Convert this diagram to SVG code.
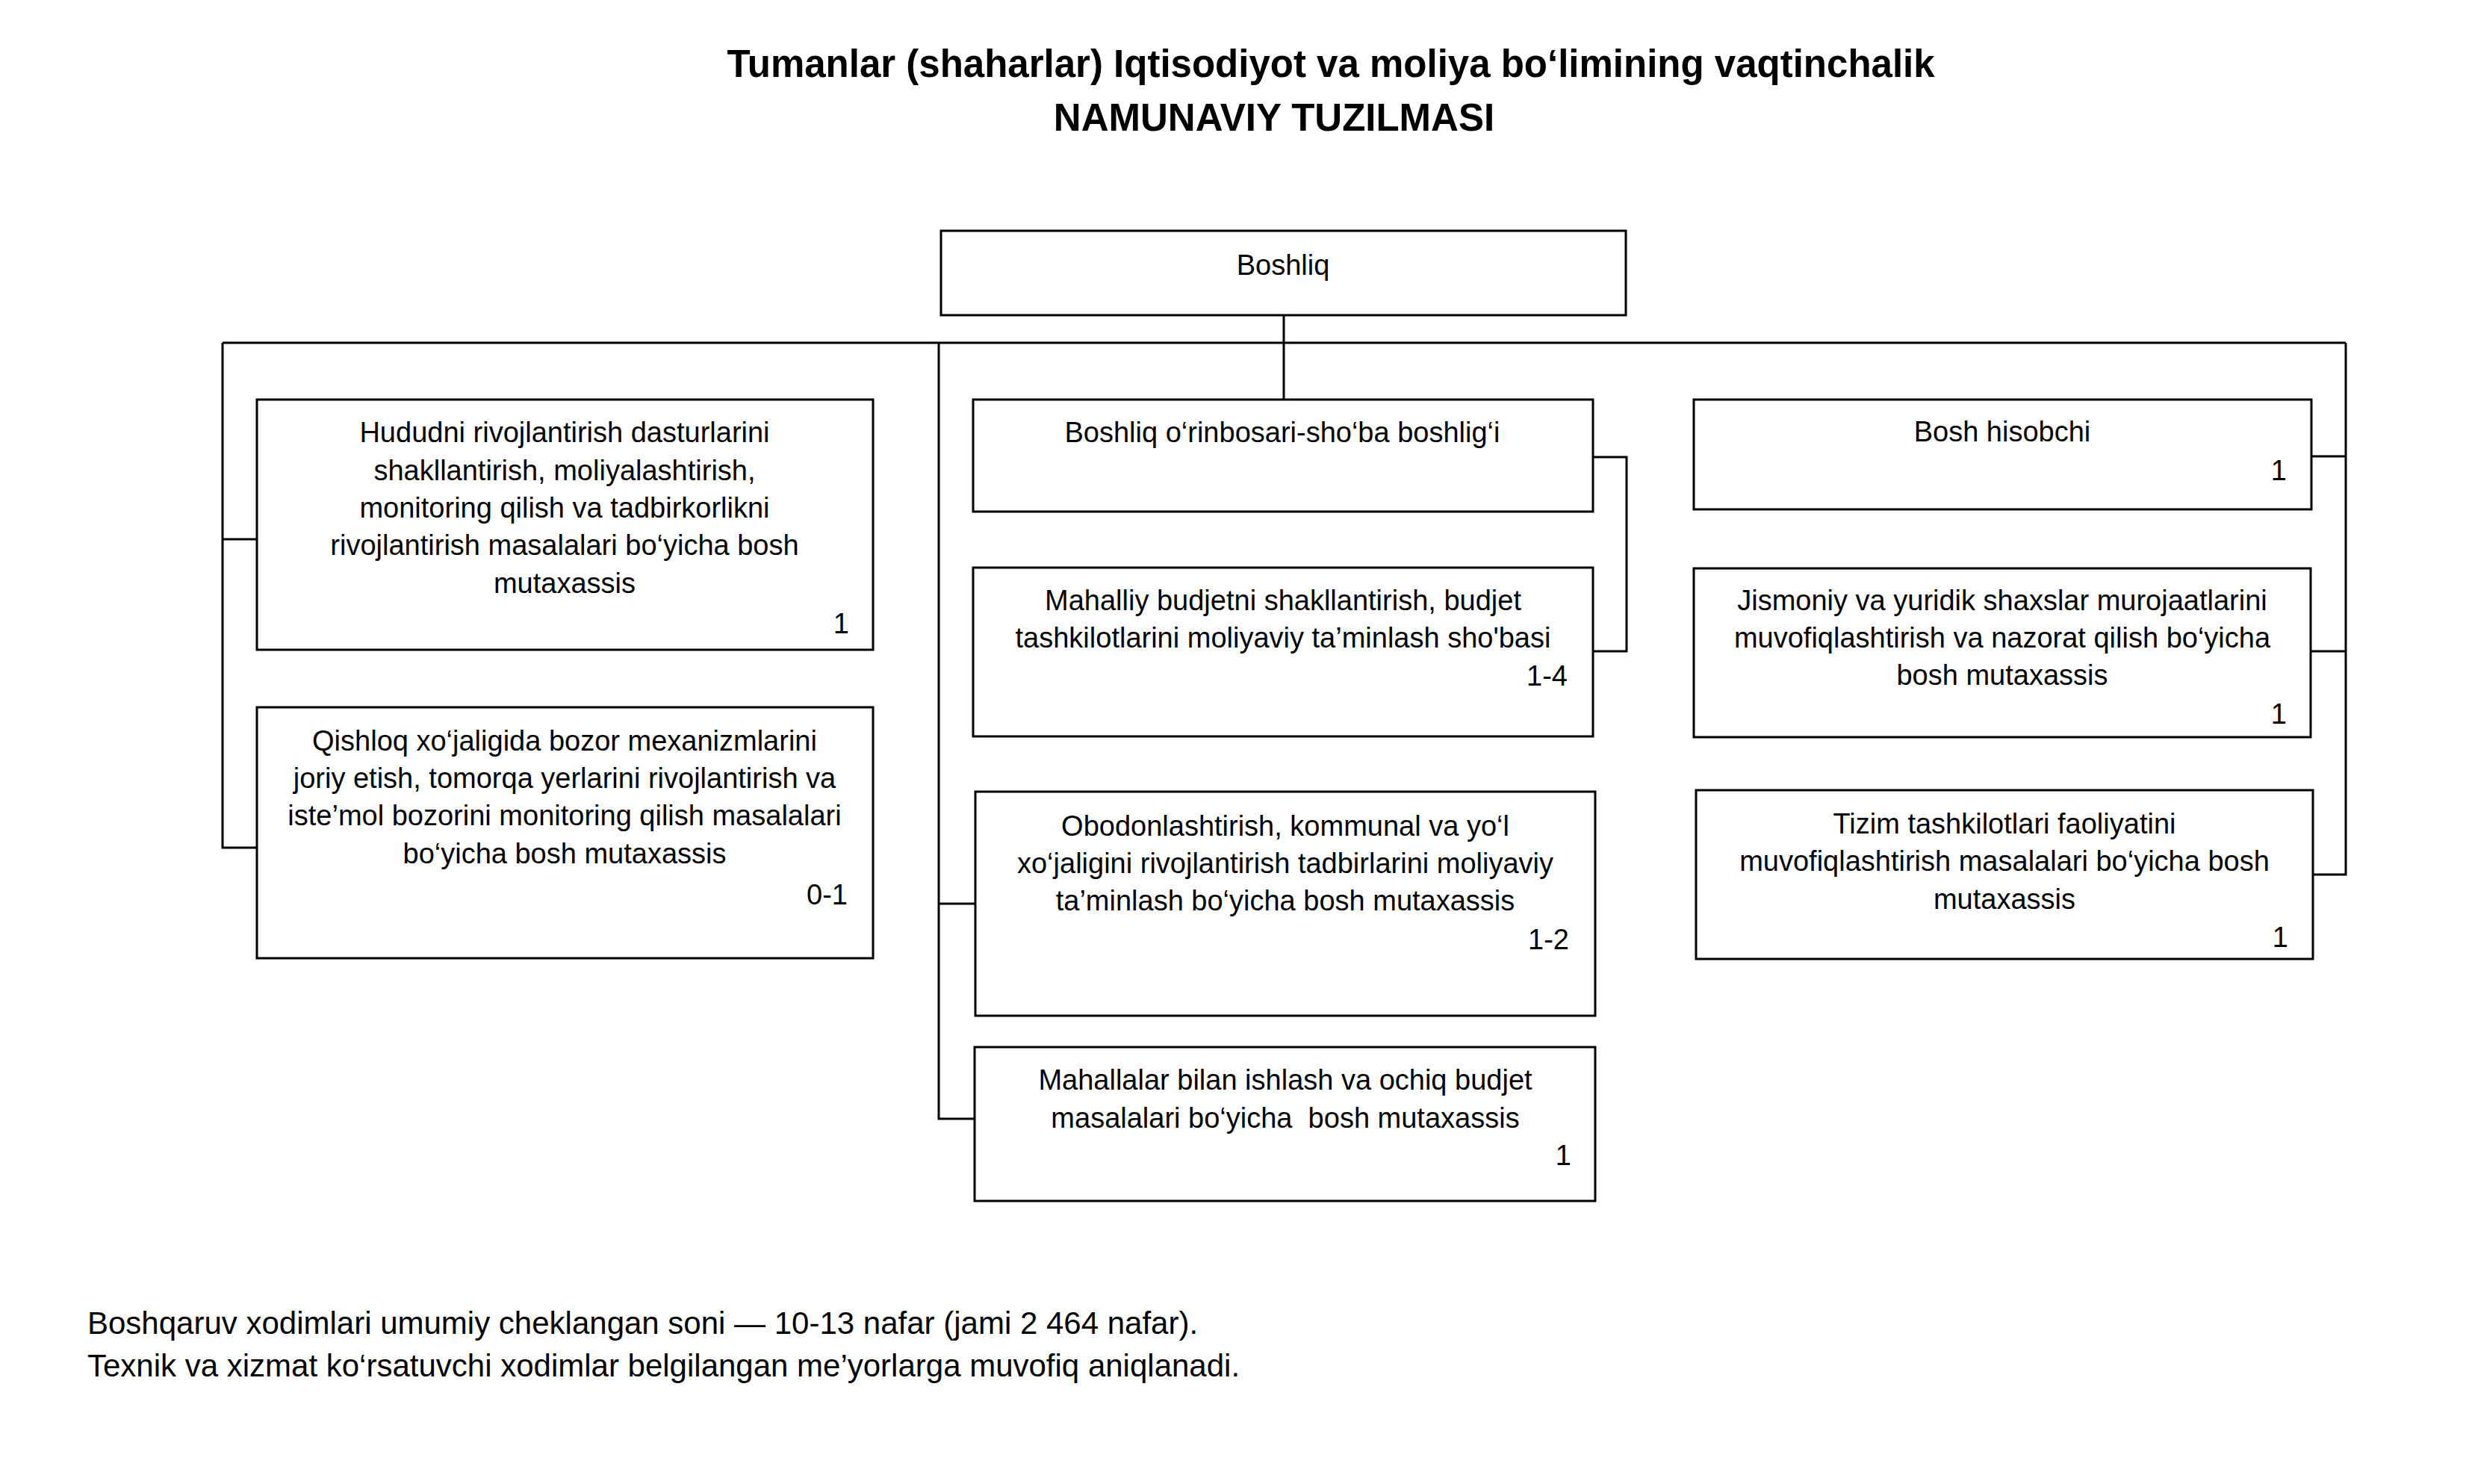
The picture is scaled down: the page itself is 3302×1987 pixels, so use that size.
<svg xmlns="http://www.w3.org/2000/svg" width="3302" height="1987" viewBox="0 0 3302 1987">
<style>
.bg{fill:#ffffff}
.box{fill:#ffffff;stroke:#000000;stroke-width:3}
.ln{fill:none;stroke:#000000;stroke-width:3}
text{font-family:"Liberation Sans",Arial,sans-serif;fill:#000000}
.t{font-size:38px;text-anchor:middle}
.n{font-size:38px;text-anchor:end}
.title{font-size:51px;font-weight:bold;text-anchor:middle}
.foot{font-size:42px}
</style>
<rect class="bg" x="0" y="0" width="3302" height="1987"/>

<g id="title">
<text class="title" x="1782" y="103">Tumanlar (shaharlar) Iqtisodiyot va moliya bo‘limining vaqtinchalik</text>
<text class="title" x="1706" y="175">NAMUNAVIY TUZILMASI</text>
</g>

<g id="connectors">
<polyline class="ln" points="1719,422 1719,535"/>
<polyline class="ln" points="298,459 3141,459"/>
<polyline class="ln" points="298,459 298,1135 344,1135"/>
<polyline class="ln" points="298,722 344,722"/>
<polyline class="ln" points="1257,459 1257,1498 1305,1498"/>
<polyline class="ln" points="1257,1210 1306,1210"/>
<polyline class="ln" points="2133,612 2178,612 2178,872 2133,872"/>
<polyline class="ln" points="3141,459 3141,1171 3096,1171"/>
<polyline class="ln" points="3095,611 3141,611"/>
<polyline class="ln" points="3094,872 3141,872"/>
</g>

<g id="boshliq">
<rect class="box" x="1260" y="309" width="917" height="113"/>
<text class="t" x="1718" y="368">Boshliq</text>
</g>

<g id="hududni">
<rect class="box" x="344" y="535" width="825" height="335"/>
<text class="t" x="756" y="592">Hududni rivojlantirish dasturlarini</text>
<text class="t" x="756" y="643">shakllantirish, moliyalashtirish,</text>
<text class="t" x="756" y="693">monitoring qilish va tadbirkorlikni</text>
<text class="t" x="756" y="743">rivojlantirish masalalari bo‘yicha bosh</text>
<text class="t" x="756" y="794">mutaxassis</text>
<text class="n" x="1137" y="848">1</text>
</g>

<g id="qishloq">
<rect class="box" x="344" y="947" width="825" height="336"/>
<text class="t" x="756" y="1005">Qishloq xo‘jaligida bozor mexanizmlarini</text>
<text class="t" x="756" y="1055">joriy etish, tomorqa yerlarini rivojlantirish va</text>
<text class="t" x="756" y="1105">iste’mol bozorini monitoring qilish masalalari</text>
<text class="t" x="756" y="1156">bo‘yicha bosh mutaxassis</text>
<text class="n" x="1135" y="1211">0-1</text>
</g>

<g id="orinbosar">
<rect class="box" x="1303" y="535" width="830" height="150"/>
<text class="t" x="1717" y="592">Boshliq o‘rinbosari-sho‘ba boshlig‘i</text>
</g>

<g id="mahalliy">
<rect class="box" x="1303" y="760" width="830" height="226"/>
<text class="t" x="1718" y="817">Mahalliy budjetni shakllantirish, budjet</text>
<text class="t" x="1718" y="867">tashkilotlarini moliyaviy ta’minlash sho'basi</text>
<text class="n" x="2099" y="918">1-4</text>
</g>

<g id="obodon">
<rect class="box" x="1306" y="1060" width="830" height="300"/>
<text class="t" x="1721" y="1119">Obodonlashtirish, kommunal va yo‘l</text>
<text class="t" x="1721" y="1169">xo‘jaligini rivojlantirish tadbirlarini moliyaviy</text>
<text class="t" x="1721" y="1219">ta’minlash bo‘yicha bosh mutaxassis</text>
<text class="n" x="2101" y="1271">1-2</text>
</g>

<g id="mahallalar">
<rect class="box" x="1305" y="1402" width="831" height="206"/>
<text class="t" x="1721" y="1459">Mahallalar bilan ishlash va ochiq budjet</text>
<text class="t" x="1721" y="1510" xml:space="preserve">masalalari bo‘yicha  bosh mutaxassis</text>
<text class="n" x="2104" y="1560">1</text>
</g>

<g id="hisobchi">
<rect class="box" x="2268" y="535" width="827" height="147"/>
<text class="t" x="2681" y="591">Bosh hisobchi</text>
<text class="n" x="3062" y="643">1</text>
</g>

<g id="jismoniy">
<rect class="box" x="2268" y="761" width="826" height="226"/>
<text class="t" x="2681" y="817">Jismoniy va yuridik shaxslar murojaatlarini</text>
<text class="t" x="2681" y="867">muvofiqlashtirish va nazorat qilish bo‘yicha</text>
<text class="t" x="2681" y="917">bosh mutaxassis</text>
<text class="n" x="3062" y="969">1</text>
</g>

<g id="tizim">
<rect class="box" x="2271" y="1058" width="826" height="226"/>
<text class="t" x="2684" y="1116">Tizim tashkilotlari faoliyatini</text>
<text class="t" x="2684" y="1166">muvofiqlashtirish masalalari bo‘yicha bosh</text>
<text class="t" x="2684" y="1217">mutaxassis</text>
<text class="n" x="3064" y="1268">1</text>
</g>

<g id="footer">
<text class="foot" x="117" y="1786">Boshqaruv xodimlari umumiy cheklangan soni — 10-13 nafar (jami 2 464 nafar).</text>
<text class="foot" x="117" y="1843">Texnik va xizmat ko‘rsatuvchi xodimlar belgilangan me’yorlarga muvofiq aniqlanadi.</text>
</g>
</svg>
